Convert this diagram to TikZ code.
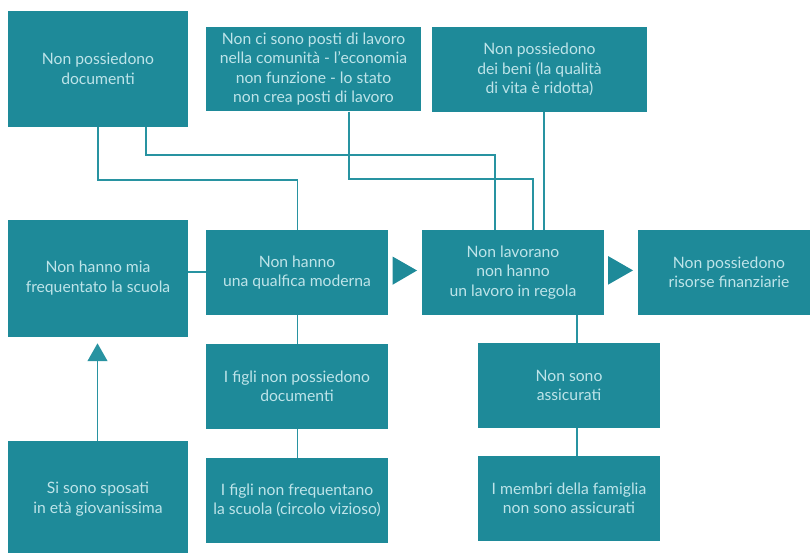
\documentclass[tikz,border=0pt]{standalone}
\usepackage{fontspec}
\setmainfont{Lato}
\usetikzlibrary{arrows.meta}
\definecolor{boxteal}{RGB}{30,138,153}
\definecolor{lineteal}{RGB}{40,147,161}
\definecolor{boxtext}{RGB}{190,228,233}
\tikzset{
  box/.style={rectangle, fill=boxteal, draw=none, text=boxtext, align=center,
    inner sep=0pt, font=\fontsize{15.7}{19.5}\selectfont},
  conn/.style={draw=lineteal, line width=1.8pt},
  tri/.style={fill=boxteal, draw=none}
}
\begin{document}
\begin{tikzpicture}[x=1pt,y=-1pt]
\useasboundingbox (0,0) rectangle (810,553);
\clip (0,0) rectangle (810,553);
% boxes
\node[box, minimum width=180pt, minimum height=116pt] (n1) at (98,69) {Non possiedono\\documenti};
\node[box, minimum width=215pt, minimum height=84.5pt] (n2) at (313.5,69.25) {Non ci sono posti di lavoro\\nella comunità - l’economia\\non funzione - lo stato\\non crea posti di lavoro};
\node[box, minimum width=215pt, minimum height=85pt] (n3) at (539.5,69.5) {Non possiedono\\dei beni (la qualità\\di vita è ridotta)};
\node[box, minimum width=180pt, minimum height=116.5pt] (n4) at (98,278.25) {Non hanno mia\\frequentato la scuola};
\node[box, minimum width=182pt, minimum height=85pt] (n5) at (297,272.5) {Non hanno\\una qualfica moderna};
\node[box, minimum width=182pt, minimum height=84.7pt] (n6) at (297,386.3) {I figli non possiedono\\documenti};
\node[box, minimum width=182pt, minimum height=84.7pt] (n7) at (297,500.3) {I figli non frequentano\\la scuola (circolo vizioso)};
\node[box, minimum width=180pt, minimum height=116pt] (n8) at (98,499) {Si sono sposati\\in età giovanissima};
\node[box, minimum width=182pt, minimum height=85pt] (n9) at (513,272.5) {Non lavorano\\non hanno\\un lavoro in regola};
\node[box, minimum width=182pt, minimum height=85pt] (n10) at (729,272.5) {Non possiedono\\risorse finanziarie};
\node[box, minimum width=182pt, minimum height=84.7pt] (n11) at (569,385.3) {Non sono\\assicurati};
\node[box, minimum width=182pt, minimum height=84.7pt] (n12) at (569,498.3) {I membri della famiglia\\non sono assicurati};
% helper coordinates
\coordinate (k1) at (297.5,180.3);
\coordinate (k0) at (97.7,180.3);
\coordinate (k2a) at (146,155);
\coordinate (k2b) at (495,155);
\coordinate (k3a) at (349.3,179.3);
\coordinate (k3b) at (533,179.3);
\coordinate (k4) at (544,0);
\coordinate (k5) at (0,272.3);
\coordinate (k8) at (577.3,0);
\coordinate (up) at (97.5,343.3);
% connectors
\draw[conn] (n1.south -| k0) |- (k1) -- (n5.north -| k1);
\draw[conn] (n1.south -| k2a) |- (k2b) -- (n9.north -| k2b);
\draw[conn] (n2.south -| k3a) |- (k3b) -- (n9.north -| k3b);
\draw[conn] (n3.south -| k4) -- (n9.north -| k4);
\draw[conn] (n4.east |- k5) -- (n5.west |- k5);
\draw[conn] (n5.south -| k1) -- (n6.north -| k1);
\draw[conn] (n6.south -| k1) -- (n7.north -| k1);
\draw[conn] (n9.south -| k8) -- (n11.north -| k8);
\draw[conn] (n11.south -| k8) -- (n12.north -| k8);
\draw[conn, -{Triangle[width=19.6pt,length=17.7pt]}] (n8.north -| up) -- (up);
% triangles between boxes
\fill[tri] (392.5,256.5) -- (417,270.5) -- (392.5,284.8) -- cycle;
\fill[tri] (608,256) -- (633,270.4) -- (608,284.7) -- cycle;
\end{tikzpicture}
\end{document}
